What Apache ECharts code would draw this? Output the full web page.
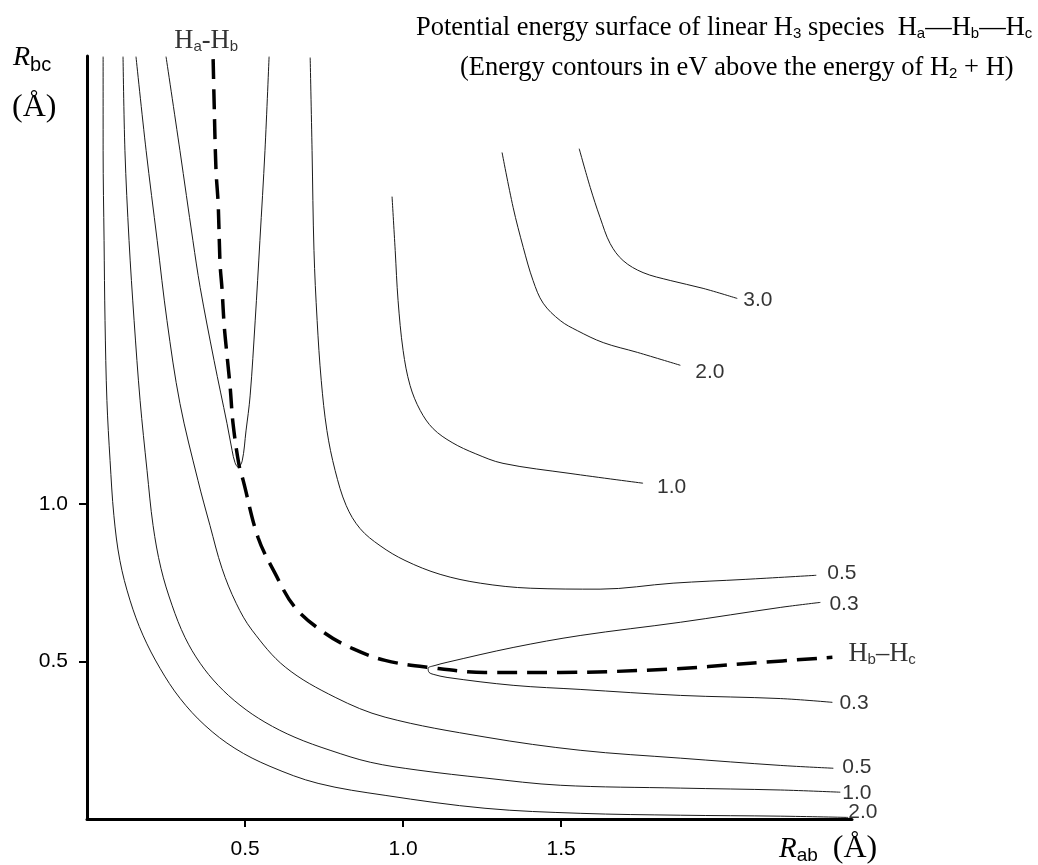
<!DOCTYPE html>
<html>
<head>
<meta charset="utf-8">
<title>H3 potential energy surface</title>
<script src="https://cdn.jsdelivr.net/npm/echarts@6.0.0/dist/echarts.min.js"></script>
<style>
  html, body { margin: 0; padding: 0; background: #fff; }
  #chart { width: 1038px; height: 865px; }
</style>
</head>
<body>
<div id="chart"></div>
<script>
// contour traces, points are [R_ab, R_bc] in angstrom
// repulsive wall (near the origin)
const wall20 = [[0.051,2.418],[0.051,2.120],[0.054,1.835],[0.057,1.581],[0.063,1.327],[0.073,1.137],[0.085,0.963],[0.104,0.820],[0.136,0.694],[0.177,0.583],[0.231,0.478],[0.294,0.383],[0.373,0.297],[0.468,0.224],[0.579,0.167],[0.731,0.113],[0.943,0.075],[1.259,0.034],[1.560,0.018],[1.877,0.012],[2.193,0.009],[2.408,0.005]];
const wall10 = [[0.114,2.418],[0.120,2.120],[0.133,1.835],[0.149,1.581],[0.168,1.327],[0.190,1.105],[0.209,0.931],[0.234,0.795],[0.269,0.678],[0.310,0.576],[0.358,0.494],[0.415,0.424],[0.484,0.361],[0.563,0.307],[0.658,0.259],[0.769,0.218],[0.896,0.180],[1.047,0.155],[1.259,0.130],[1.497,0.107],[1.877,0.098],[2.193,0.092],[2.383,0.085]];
const wall05 = [[0.155,2.418],[0.187,2.120],[0.222,1.835],[0.253,1.581],[0.294,1.318],[0.351,1.074],[0.389,0.931],[0.427,0.795],[0.472,0.684],[0.522,0.599],[0.627,0.482],[0.785,0.386],[0.943,0.323],[1.259,0.260],[1.560,0.218],[1.877,0.193],[2.193,0.170],[2.361,0.161]];
// the two 0.3 eV valleys
const valleyAB = [[0.250,2.418],[0.294,2.120],[0.335,1.835],[0.358,1.686],[0.402,1.454],[0.443,1.254],[0.459,1.169],[0.468,1.131],[0.478,1.116],[0.491,1.136],[0.503,1.231],[0.516,1.342],[0.532,1.580],[0.547,1.835],[0.563,2.120],[0.576,2.418]];
const valleyBC = [[2.320,0.687],[2.193,0.671],[1.877,0.624],[1.560,0.582],[1.348,0.544],[1.139,0.497],[1.101,0.487],[1.079,0.478],[1.082,0.465],[1.095,0.459],[1.139,0.449],[1.348,0.424],[1.560,0.411],[1.877,0.392],[2.193,0.382],[2.358,0.370]];
// outer contours (towards H + H + H)
const ridge05 = [[0.706,2.415],[0.712,2.120],[0.718,1.803],[0.728,1.581],[0.741,1.391],[0.759,1.232],[0.785,1.105],[0.820,0.994],[0.864,0.921],[0.927,0.867],[1.006,0.820],[1.117,0.776],[1.244,0.748],[1.402,0.732],[1.623,0.729],[1.854,0.748],[2.082,0.760],[2.307,0.773]];
const ridge10 = [[0.965,1.974],[0.975,1.803],[0.984,1.645],[1.000,1.486],[1.022,1.375],[1.054,1.296],[1.095,1.238],[1.155,1.194],[1.228,1.159],[1.316,1.128],[1.528,1.096],[1.759,1.065]];
const ridge20 = [[1.313,2.114],[1.348,1.940],[1.380,1.813],[1.411,1.708],[1.443,1.636],[1.497,1.581],[1.551,1.549],[1.633,1.511],[1.741,1.480],[1.877,1.439]];
const ridge30 = [[1.557,2.126],[1.592,2.003],[1.623,1.908],[1.655,1.825],[1.696,1.771],[1.759,1.733],[1.845,1.708],[1.949,1.683],[2.057,1.651]];
// minimum energy path
const reactionPath = [[0.399,2.41],[0.402,2.28],[0.408,2.06],[0.415,1.95],[0.421,1.76],[0.427,1.683],[0.434,1.565],[0.443,1.47],[0.453,1.368],[0.462,1.254],[0.481,1.122],[0.494,1.074],[0.541,0.893],[0.595,0.779],[0.658,0.671],[0.753,0.589],[0.839,0.541],[0.943,0.503],[1.079,0.481],[1.259,0.465],[1.497,0.465],[1.835,0.475],[2.098,0.494],[2.358,0.513]];

const xTicks = [0.5, 1.0, 1.5];
const yTicks = [0.5, 1.0];
const axisMax = 2.42;

const serif = '"Liberation Serif", "Times New Roman", serif';
const sans = '"Liberation Sans", Arial, sans-serif';

const richText = {
  n: { fontFamily: serif, fontSize: 26.5, color: '#000' },
  s: { fontFamily: sans, fontSize: 15, color: '#000', padding: [12, 0, 0, 0] }
};

// contour value labels hang off the curve ends
const last = a => a[a.length - 1];
const tags = [
  { name: '3.0', value: last(ridge30), label: { offset: [1, 2] } },
  { name: '2.0', value: last(ridge20), label: { offset: [10, 7] } },
  { name: '1.0', value: last(ridge10), label: { offset: [9, 4] } },
  { name: '0.5', value: last(ridge05), label: { offset: [6, -2] } },
  { name: '0.3', value: valleyBC[0], label: { offset: [4, 2] } },
  { name: '0.3', value: last(valleyBC), label: { offset: [2, 1] } },
  { name: '0.5', value: last(wall05), label: { offset: [4, -1] } },
  { name: '1.0', value: last(wall10), label: { offset: [-3, 1] } },
  { name: '2.0', value: last(wall20), label: { offset: [-5, -5] } },
  { name: '{n|H}{s|b}{n|–H}{s|c}', value: last(reactionPath), label: { offset: [11, -3], rich: richText } },
  { name: '{n|H}{s|a}{n|-H}{s|b}', value: reactionPath[0], label: { position: 'inside', offset: [-7, -18], rich: richText } }
];

function contour(data) {
  return {
    type: 'line',
    data: data,
    showSymbol: false,
    smooth: 0.35,
    silent: true,
    lineStyle: { color: '#1a1a1a', width: 1 }
  };
}

const chart = echarts.init(document.getElementById('chart'));
chart.setOption({
  animation: false,
  backgroundColor: '#fff',
  grid: { left: 87, top: 56, width: 765, height: 763 },
  xAxis: {
    type: 'value',
    min: 0,
    max: axisMax,
    splitLine: { show: false },
    axisLine: { lineStyle: { color: '#000', width: 3 } },
    axisTick: { customValues: xTicks, length: 8, lineStyle: { color: '#000', width: 2 } },
    axisLabel: {
      customValues: xTicks,
      formatter: v => v.toFixed(1),
      margin: 20,
      color: '#000',
      fontFamily: sans,
      fontSize: 21
    }
  },
  yAxis: {
    type: 'value',
    min: 0,
    max: axisMax,
    splitLine: { show: false },
    axisLine: { lineStyle: { color: '#000', width: 3 } },
    axisTick: { customValues: yTicks, length: 8, lineStyle: { color: '#000', width: 2 } },
    axisLabel: {
      customValues: yTicks,
      formatter: v => v.toFixed(1),
      margin: 19,
      color: '#000',
      fontFamily: sans,
      fontSize: 21
    }
  },
  graphic: [
    {
      type: 'text', x: 416, y: 28,
      style: {
        text: '{n|Potential energy surface of linear H}{s|3}{n| species  H}{s|a}{n|—H}{s|b}{n|—H}{s|c}',
        rich: richText, align: 'left', verticalAlign: 'middle'
      }
    },
    {
      type: 'text', x: 460, y: 68,
      style: {
        text: '{n|(Energy contours in eV above the energy of H}{s|2}{n| + H)}',
        rich: richText, align: 'left', verticalAlign: 'middle'
      }
    },
    {
      type: 'text', x: 13, y: 58,
      style: {
        text: '{r|R}{b|bc}',
        rich: {
          r: { fontFamily: serif, fontSize: 28, fontStyle: 'italic', color: '#000' },
          b: { fontFamily: sans, fontSize: 20, color: '#000', padding: [14, 0, 0, 0] }
        },
        align: 'left', verticalAlign: 'middle'
      }
    },
    {
      type: 'text', x: 12, y: 108,
      style: { text: '(Å)', font: '32px ' + serif, fill: '#000', align: 'left', verticalAlign: 'middle' }
    },
    {
      type: 'text', x: 779, y: 849,
      style: {
        text: '{r|R}{b|ab}{g|   }{n|(Å)}',
        rich: {
          r: { fontFamily: serif, fontSize: 29, fontStyle: 'italic', color: '#000' },
          b: { fontFamily: sans, fontSize: 19, color: '#000', padding: [14, 0, 0, 0] },
          g: { fontFamily: serif, fontSize: 20 },
          n: { fontFamily: serif, fontSize: 32, color: '#000' }
        },
        align: 'left', verticalAlign: 'middle'
      }
    }
  ],
  series: [
    contour(wall20),
    contour(wall10),
    contour(wall05),
    contour(valleyAB),
    contour(valleyBC),
    contour(ridge05),
    contour(ridge10),
    contour(ridge20),
    contour(ridge30),
    {
      type: 'line',
      data: reactionPath,
      showSymbol: false,
      smooth: 0.35,
      silent: true,
      z: 3,
      lineStyle: { color: '#000', width: 3.5, type: [20, 10] }
    },
    {
      type: 'scatter',
      data: tags,
      symbolSize: 0,
      silent: true,
      z: 5,
      itemStyle: { color: 'rgba(0,0,0,0)' },
      label: {
        show: true,
        position: 'right',
        distance: 5,
        color: '#000',
        fontFamily: sans,
        fontSize: 21,
        formatter: p => p.name
      }
    }
  ]
});
</script>
</body>
</html>
